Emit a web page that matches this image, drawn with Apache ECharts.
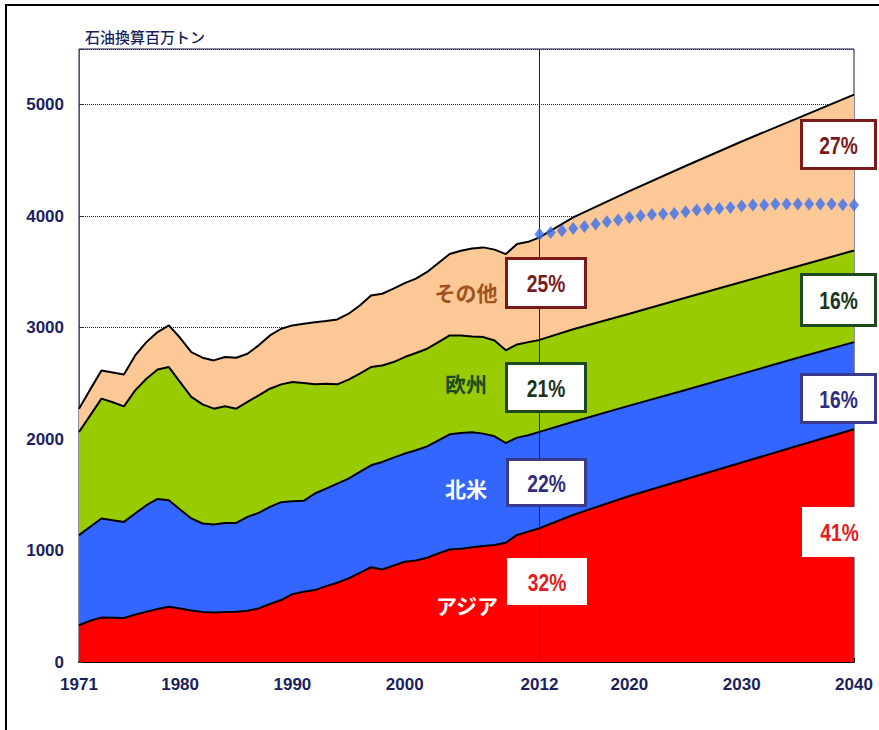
<!DOCTYPE html>
<html><head><meta charset="utf-8">
<script src="https://cdn.jsdelivr.net/npm/echarts@6/dist/echarts.min.js"></script>
<style>html,body{margin:0;padding:0;background:#fff}#c{width:879px;height:730px}</style>
</head><body><div id="c"></div><script>
// ---- data (百万トン, 石油換算) ----
const years = [1971,1972,1973,1974,1975,1976,1977,1978,1979,1980,1981,1982,1983,1984,1985,1986,1987,1988,1989,1990,1991,1992,1993,1994,1995,1996,1997,1998,1999,2000,2001,2002,2003,2004,2005,2006,2007,2008,2009,2010,2011,2012,2015,2020,2025,2030,2035,2040];
const asia = [330,370,400,398,395,425,450,475,495,480,462,448,445,448,451,460,481,520,556,609,630,645,681,711,750,800,850,830,865,900,910,935,975,1010,1015,1030,1040,1050,1070,1140,1170,1200,1320,1490,1640,1790,1940,2088];
const northAmerica = [808,843,888,874,862,907,957,988,957,888,826,795,788,800,797,842,857,872,878,834,816,867,875,890,896,906,915,965,969,970,990,1000,1014,1033,1040,1031,1009,975,895,873,864,865,835,810,800,795,790,782];
const europe = [926,1000,1075,1058,1037,1105,1135,1162,1194,1144,1090,1069,1040,1046,1025,1031,1055,1060,1057,1069,1057,979,941,890,887,881,881,865,857,866,872,876,881,887,875,860,866,860,831,836,836,825,830,825,828,825,820,822];
const others = [209,233,253,268,286,314,328,335,374,397,403,418,433,442,457,433,448,478,499,508,532,558,562,583,592,612,643,644,659,664,668,689,710,730,760,789,805,815,864,901,900,920,1005,1100,1182,1260,1330,1398];
const refYears = [2012,2013,2014,2015,2016,2017,2018,2019,2020,2021,2022,2023,2024,2025,2026,2027,2028,2029,2030,2031,2032,2033,2034,2035,2036,2037,2038,2039,2040];
const refTotal = [3839,3854,3869,3890,3908,3929,3950,3965,3989,4004,4016,4019,4025,4040,4055,4064,4070,4079,4091,4100,4100,4109,4109,4109,4109,4109,4109,4103,4100];
const xTickLabels = [1971,1980,1990,2000,2012,2020,2030,2040];
const yTickLabels = [0,1000,2000,3000,4000,5000];
const regionNames = ['アジア','北米','欧州','その他'];
const shares2012 = ['32%','22%','21%','25%'];
const shares2040 = ['41%','16%','16%','27%'];

const NUMF = '"Liberation Sans",Arial,sans-serif';
const CJK = '"Noto Sans CJK JP","Noto Sans",sans-serif';
const navy = '#1c1f5e';
const colors = ['#ff0000','#3366ff','#99cc00','#fbc896'];
const borderCols = ['#ffffff','#3a3a8c','#1d4a1d','#7b1a1a'];
const textCols = ['#e02020','#2e2e7a','#1a331a','#7b1a1a'];

const chart = echarts.init(document.getElementById('c'), null, {renderer:'svg'});

// cumulative layers (stack built from the region arrays)
const regions = [asia, northAmerica, europe, others];
const cumulative = [];
let running = years.map(()=>0);
regions.forEach(arr => { running = running.map((v,k)=>v+arr[k]); cumulative.push(running.slice()); });

function areaSeries(i){
  return {
    name: regionNames[i], type:'line', symbol:'none', z:2 + (3 - i) * 0,
    data: years.map((y,k)=>[y,cumulative[i][k]]),
    lineStyle:{color:'#000', width:2},
    itemStyle:{color:colors[i]},
    areaStyle:{color:colors[i], opacity:1, origin:'start'}
  };
}

const tickYears = [];
for (let y = 1971; y <= 2040; y++) tickYears.push(y);

const box2012 = [{x:507,y:558,w:80,h:47},{x:506,y:458,w:81,h:49},{x:505,y:362,w:82,h:51},{x:505,y:257,w:82,h:52}];
const box2040 = [{x:802,y:507,w:75,h:50},{x:800,y:373,w:77,h:51},{x:800,y:273,w:77,h:54},{x:800,y:119,w:77,h:51}];
const graphics = [];
function addBox(b, txt, i){
  graphics.push({type:'rect', z:100, shape:{x:b.x+1.5,y:b.y+1.5,width:b.w-3,height:b.h-3},
    style:{fill:'#fff', stroke:borderCols[i], lineWidth:3}});
  graphics.push({type:'text', z:101, x:b.x+b.w/2, y:b.y+b.h/2+1, scaleX:0.8,
    style:{text:txt, fill:textCols[i], font:'bold 24px '+NUMF, textAlign:'center', textVerticalAlign:'middle'}});
}
for (let i=0;i<4;i++){ addBox(box2012[i], shares2012[i], i); addBox(box2040[i], shares2040[i], i); }
const regionLabelPos = [{x:467,y:605,c:'#ffffff'},{x:466,y:488,c:'#ffffff'},{x:466,y:383,c:'#1d4a1d'},{x:466,y:292,c:'#a0521e'}];
for (let i=0;i<4;i++){
  graphics.push({type:'text', z:100, x:regionLabelPos[i].x, y:regionLabelPos[i].y,
    style:{text:regionNames[i], fill:regionLabelPos[i].c, font:'bold 21px '+CJK, textAlign:'center', textVerticalAlign:'middle'}});
}
graphics.push({type:'text', z:100, x:85, y:36, style:{text:'石油換算百万トン', fill:navy, font:'500 15px '+CJK, textAlign:'left', textVerticalAlign:'middle'}});
graphics.push({type:'polyline', z:100, shape:{points:[[6,730],[6,5],[879,5]]}, style:{stroke:'#000', lineWidth:2, fill:null}});

const series = [3,2,1,0].map(areaSeries);
series.push({name:'参考', type:'scatter', z:5, symbol:'diamond', symbolSize:[10,13],
  itemStyle:{color:'#3b6ff0'}, data: refYears.map((y,k)=>[y, refTotal[k]]),
  markLine:{silent:true, symbol:'none', label:{show:false}, lineStyle:{color:'#222', width:1, type:'solid'},
    data:[{xAxis:2012}]}});

chart.setOption({
  animation:false,
  backgroundColor:'#fff',
  grid:{left:79, right:25, top:49, bottom:68, show:true, borderColor:'#1a1a4a', borderWidth:1, backgroundColor:'transparent'},
  xAxis:{type:'value', min:1971, max:2040, interval:1,
    axisLine:{show:true, lineStyle:{color:'#000', width:2}},
    axisTick:{show:true, inside:true, length:4, customValues:tickYears, lineStyle:{color:'#000', width:1}},
    axisLabel:{customValues:xTickLabels, formatter:v=>String(v), color:navy, fontFamily:NUMF, fontSize:17, fontWeight:'bold', margin:14},
    splitLine:{show:false}},
  yAxis:{type:'value', min:0, max:5500, interval:1000,
    axisLine:{show:true, lineStyle:{color:'#555', width:1}},
    axisTick:{show:true, inside:true, length:4, lineStyle:{color:'#333'}},
    axisLabel:{customValues:yTickLabels, formatter:v=>String(v), color:navy, fontFamily:NUMF, fontSize:17, fontWeight:'bold', margin:15},
    splitLine:{show:true, lineStyle:{color:'#222', type:'dotted', width:1}}},
  series: series,
  graphic: graphics
});
</script></body></html>
